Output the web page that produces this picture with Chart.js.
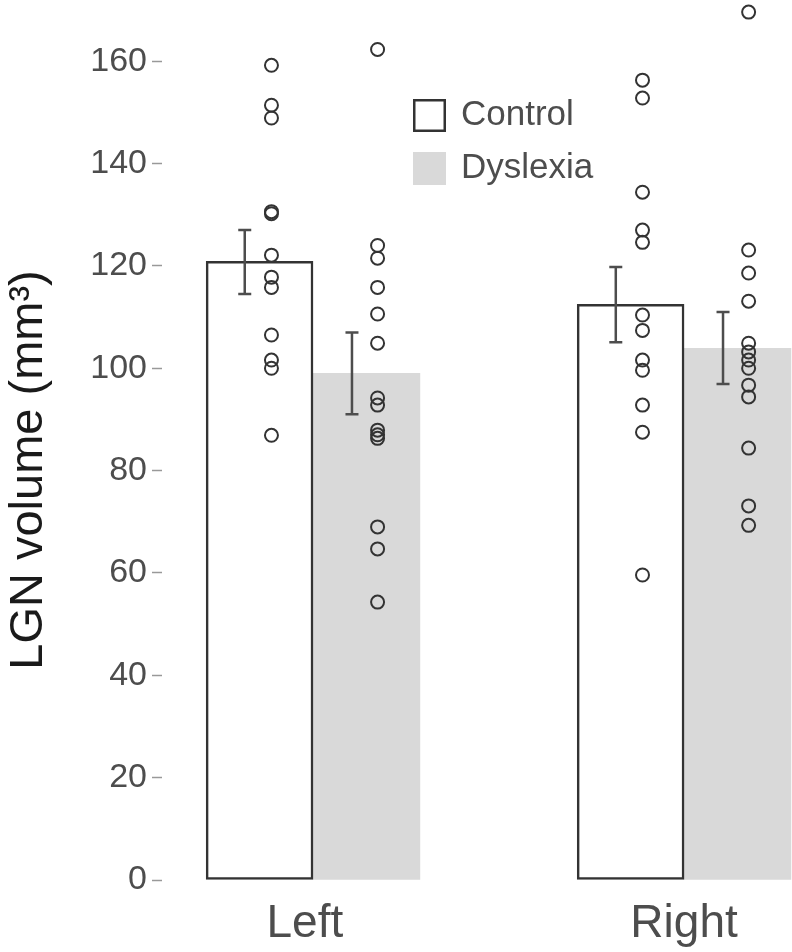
<!DOCTYPE html>
<html><head><meta charset="utf-8">
<script src="https://cdn.jsdelivr.net/npm/chart.js@4/dist/chart.umd.min.js"></script>
<style>html,body{margin:0;padding:0;background:#fff;overflow:hidden}#wrap{position:relative;width:792px;height:952px}</style>
</head><body><div id="wrap"><canvas id="c" width="792" height="952"></canvas></div>
<script>
const categories = ['Left', 'Right'];
const seriesNames = ['Control', 'Dyslexia'];
const controlMeans = [120.9, 112.5];
const dyslexiaMeans = [99.0, 103.9];
const controlErrLow = [114.5, 105.1];
const controlErrHigh = [127.0, 119.8];
const dyslexiaErrLow = [91.0, 96.9];
const dyslexiaErrHigh = [107.0, 111.0];
const controlLeftPts = [159.2, 151.4, 148.9, 130.6, 130.2, 122.1, 117.8, 115.8, 106.5, 101.6, 100.0, 86.9];
const controlRightPts = [156.3, 152.8, 134.4, 127.0, 124.6, 110.4, 107.4, 101.6, 99.6, 92.8, 87.5, 59.6];
const dyslexiaLeftPts = [162.3, 124.0, 121.5, 115.8, 110.6, 104.9, 94.2, 92.8, 87.9, 87.0, 86.3, 69.0, 64.7, 54.3];
const dyslexiaRightPts = [169.6, 123.1, 118.6, 113.1, 104.9, 103.2, 101.6, 100.0, 96.7, 94.4, 84.4, 73.1, 69.3];
const yTicks = [0, 20, 40, 60, 80, 100, 120, 140, 160];
const yTitle = 'LGN volume (mm³)';

// layout offsets (in category units) relative to each category centre
const barOffset = [-0.144, 0.144];
const pointOffset = [-0.112, 0.174];
const errOffset = [-0.184, 0.105];
const labelNudge = [-0.022, 0];

const FONT = "'Liberation Sans', Arial, Helvetica, sans-serif";
const INK = '#333333';

const means = [controlMeans, dyslexiaMeans];
const errLow = [controlErrLow, dyslexiaErrLow];
const errHigh = [controlErrHigh, dyslexiaErrHigh];
const pts = [[controlLeftPts, controlRightPts], [dyslexiaLeftPts, dyslexiaRightPts]];

const barData = s => categories.map((c, i) => ({x: i + barOffset[s], y: means[s][i]}));
const ptData = s => categories.flatMap((c, i) => pts[s][i].map(v => ({x: i + pointOffset[s], y: v})));

const errorBars = {
  id: 'errorBars',
  afterDatasetsDraw(chart) {
    const {ctx, scales: {x, y}} = chart;
    ctx.save();
    ctx.strokeStyle = '#4d4d4d';
    ctx.lineWidth = 2.5;
    for (let s = 0; s < 2; s++) {
      categories.forEach((c, i) => {
        const px = x.getPixelForValue(i + errOffset[s]);
        const y0 = y.getPixelForValue(errLow[s][i]);
        const y1 = y.getPixelForValue(errHigh[s][i]);
        ctx.beginPath();
        ctx.moveTo(px, y0); ctx.lineTo(px, y1);
        ctx.moveTo(px - 6.5, y0); ctx.lineTo(px + 6.5, y0);
        ctx.moveTo(px - 6.5, y1); ctx.lineTo(px + 6.5, y1);
        ctx.stroke();
      });
    }
    ctx.restore();
  }
};

const legendPlugin = {
  id: 'customLegend',
  afterDraw(chart) {
    const ctx = chart.ctx;
    ctx.save();
    const bx = 413, size = 33;
    const rows = [99, 152];
    ctx.fillStyle = '#ffffff';
    ctx.fillRect(bx, rows[0], size, size);
    ctx.strokeStyle = INK; ctx.lineWidth = 2.5;
    ctx.strokeRect(bx + 1.25, rows[0] + 1.25, size - 2.5, size - 2.5);
    ctx.fillStyle = '#d9d9d9';
    ctx.fillRect(bx, rows[1], size, size);
    ctx.fillStyle = '#4d4d4d';
    ctx.font = '35px ' + FONT;
    ctx.textBaseline = 'middle';
    ctx.textAlign = 'left';
    seriesNames.forEach((n, k) => ctx.fillText(n, 461, rows[k] + size / 2));
    // y-axis title
    ctx.fillStyle = '#1a1a1a';
    ctx.font = '47px ' + FONT;
    ctx.textAlign = 'center';
    ctx.textBaseline = 'alphabetic';
    ctx.translate(42, 470);
    ctx.rotate(-Math.PI / 2);
    ctx.fillText(yTitle, 0, 0);
    ctx.restore();
  }
};

new Chart(document.getElementById('c'), {
  type: 'bar',
  data: {
    datasets: [
      {type: 'scatter', label: 'Control points', data: ptData(0), order: 0, clip: false,
       pointRadius: 6.5, pointBorderWidth: 2, pointBorderColor: INK, pointBackgroundColor: 'rgba(0,0,0,0)'},
      {type: 'scatter', label: 'Dyslexia points', data: ptData(1), order: 0, clip: false,
       pointRadius: 6.5, pointBorderWidth: 2, pointBorderColor: INK, pointBackgroundColor: 'rgba(0,0,0,0)'},
      {label: seriesNames[0], data: barData(0), order: 2, grouped: false, clip: false,
       backgroundColor: '#ffffff', borderColor: INK, borderWidth: 2.5, borderSkipped: false,
       barPercentage: 1, categoryPercentage: 1},
      {label: seriesNames[1], data: barData(1), order: 2, grouped: false, clip: false,
       backgroundColor: '#d9d9d9', borderWidth: 0,
       barPercentage: 1, categoryPercentage: 1}
    ]
  },
  options: {
    responsive: false,
    animation: false,
    devicePixelRatio: 1,
    layout: {padding: 0},
    plugins: {legend: {display: false}, tooltip: {enabled: false}},
    scales: {
      x: {
        type: 'linear', min: -0.407, max: 1.268, offset: false,
        grid: {display: false, offset: false}, border: {display: false},
        ticks: {font: {family: FONT, size: 46}, color: '#4d4d4d', padding: 9,
                callback: v => categories[Math.round(v)]},
        afterBuildTicks: s => { s.ticks = categories.map((c, i) => ({value: i + labelNudge[i]})); },
        afterFit: s => { s.height = 72; s.paddingLeft = 0; s.paddingRight = 0; }
      },
      y: {
        min: 0, max: 170.3,
        grid: {display: true, drawOnChartArea: false, drawTicks: true, tickLength: 10,
               tickColor: '#999999', tickWidth: 1.5},
        border: {display: false},
        ticks: {font: {family: FONT, size: 34}, color: '#4d4d4d', padding: 5},
        afterBuildTicks: s => { s.ticks = yTicks.map(v => ({value: v})); },
        afterFit: s => { s.width = 162; s.paddingTop = 0; s.paddingBottom = 0; },
        title: {display: false}
      }
    }
  },
  plugins: [errorBars, legendPlugin]
});
</script></body></html>
